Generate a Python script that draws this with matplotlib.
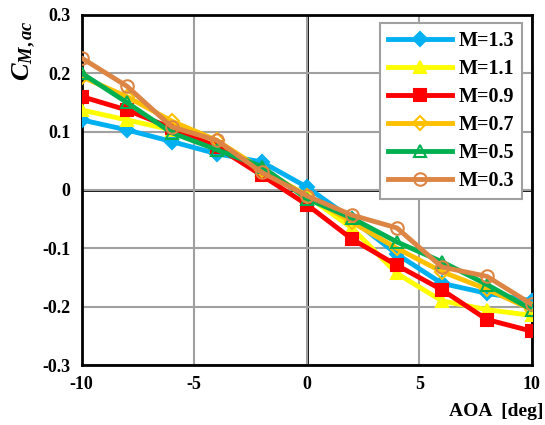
import matplotlib.pyplot as plt
import numpy as np

# angle of attack [deg]
aoa = [-10, -8, -6, -4, -2, 0, 2, 4, 6, 8, 10]

# moment coefficient about a.c. for each Mach number
cm_m13 = [0.120, 0.103, 0.083, 0.062, 0.048, 0.005, -0.050, -0.110, -0.160, -0.177, -0.190]
cm_m11 = [0.137, 0.120, 0.103, 0.075, 0.035, -0.010, -0.065, -0.143, -0.190, -0.205, -0.215]
cm_m09 = [0.160, 0.137, 0.106, 0.074, 0.025, -0.025, -0.084, -0.129, -0.171, -0.222, -0.242]
cm_m07 = [0.194, 0.160, 0.118, 0.085, 0.035, -0.010, -0.055, -0.100, -0.140, -0.170, -0.205]
cm_m05 = [0.200, 0.150, 0.098, 0.069, 0.040, -0.015, -0.048, -0.089, -0.123, -0.162, -0.205]
cm_m03 = [0.226, 0.178, 0.108, 0.085, 0.030, -0.010, -0.043, -0.065, -0.132, -0.148, -0.196]

labels = ['M=1.3', 'M=1.1', 'M=0.9', 'M=0.7', 'M=0.5', 'M=0.3']
series = [cm_m13, cm_m11, cm_m09, cm_m07, cm_m05, cm_m03]

colors = ['#00B0F0', '#FFFF00', '#FF0000', '#FFC000', '#00B050', '#DC8544']
markers = ['D', '^', 's', 'D', '^', 'o']
filled = [True, True, True, False, False, False]
sizes = [7, 9, 8, 7, 9, 9]

plt.rcParams['font.family'] = 'Liberation Serif'
plt.rcParams['font.weight'] = 'bold'
plt.rcParams['mathtext.fontset'] = 'custom'
plt.rcParams['mathtext.it'] = 'Liberation Serif:italic:bold'
plt.rcParams['mathtext.rm'] = 'Liberation Serif:bold'

fig = plt.figure(figsize=(5.45, 4.25), dpi=100)
ax = fig.add_axes([0.150, 0.141, 0.826, 0.824])

for y, lab, c, m, f, s in zip(series, labels, colors, markers, filled, sizes):
    ax.plot(aoa, y, color=c, linewidth=3.5, marker=m, markersize=s,
            markerfacecolor=c if f else 'none', markeredgecolor=c,
            markeredgewidth=1.5, label=lab, zorder=3)

ax.set_xlim(-10, 10)
ax.set_ylim(-0.3, 0.3)
ax.set_xticks([-10, -5, 0, 5, 10])
ax.set_yticks(np.arange(-0.3, 0.31, 0.1))
ax.set_xticklabels(['-10', '-5', '0', '5', '10'])
ax.set_yticklabels(['-0.3', '-0.2', '-0.1', '0', '0.1', '0.2', '0.3'])
ax.grid(True, color='#A0A0A0', linewidth=1.5, zorder=0)
ax.axhline(0, color='black', linewidth=2, zorder=1)
ax.axvline(0, color='black', linewidth=2, zorder=1)
for sp in ax.spines.values():
    sp.set_linewidth(2)
    sp.set_color('black')
ax.tick_params(length=0, pad=8, labelsize=13)
for t in ax.get_xticklabels() + ax.get_yticklabels():
    t.set_fontweight('bold')

fig.text(0.045, 0.88, r'$C_{M,ac}$', rotation=90,
         fontsize=19, ha='center', va='center')
fig.text(0.998, 0.012, 'AOA  [deg]', fontsize=14, fontweight='bold',
         ha='right', va='bottom')

leg = ax.legend(loc='upper right', bbox_to_anchor=(0.978, 0.978), fontsize=14.5,
                handlelength=3.2, handletextpad=0.3, labelspacing=0.4,
                borderpad=0.4, borderaxespad=0, fancybox=False,
                edgecolor='#A0A0A0', framealpha=1)
leg.get_frame().set_linewidth(1.5)
for t in leg.get_texts():
    t.set_fontweight('bold')

fig.savefig('out.png', dpi=100)
